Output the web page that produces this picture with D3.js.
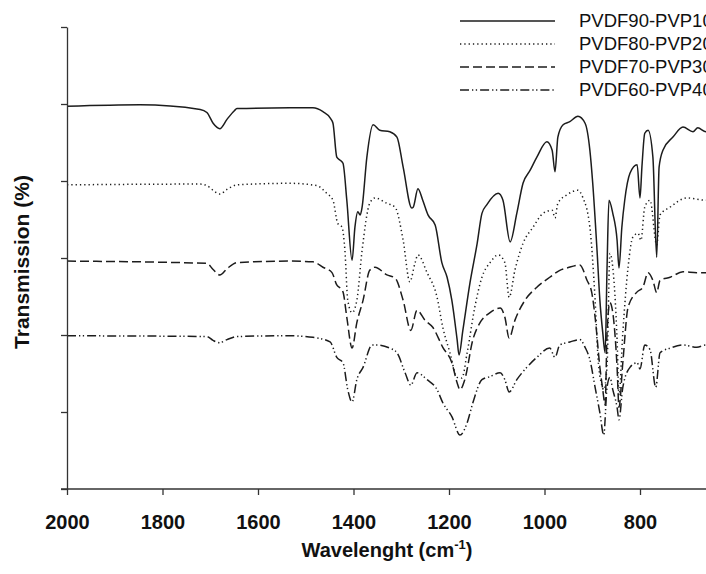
<!DOCTYPE html>
<html>
<head>
<meta charset="utf-8">
<script src="https://cdn.jsdelivr.net/npm/d3@7"></script>
<style>
  body { margin: 0; background: #fff; }
  svg { display: block; }
  text { font-family: "Liberation Sans", Arial, sans-serif; fill: #111; }
</style>
</head>
<body>
<div id="chart"></div>
<script>
// FTIR spectra, [wavenumber cm-1, transmission]
const pvdf90 = [[2000,49.7],[1847,49.9],[1721,49.3],[1707,48.9],[1694,47.5],[1680,46.8],[1665,48.0],[1650,49.1],[1644,49.4],
  [1533,49.5],[1485,49.5],[1464,49.0],[1449,48.2],[1443,47.5],[1435,43.1],[1428,42.7],[1422,42.3],[1414,37.5],
  [1403,29.7],[1397,34.0],[1391,36.0],[1386,35.6],[1382,36.6],[1372,43.1],[1359,47.3],[1345,46.6],[1324,46.4],
  [1309,45.7],[1296,41.8],[1278,36.5],[1275,36.6],[1265,39.0],[1255,37.5],[1244,35.6],[1229,34.3],[1215,29.4],
  [1204,27.5],[1194,24.5],[1183,19.4],[1179,17.4],[1171,20.6],[1156,26.8],[1141,31.9],[1131,35.8],[1121,36.9],
  [1097,38.4],[1087,37.5],[1072,32.1],[1058,35.8],[1045,39.7],[1030,41.4],[1016,43.1],[995,45.1],[984,44.0],
  [978,41.2],[972,45.7],[961,47.3],[947,47.7],[930,48.4],[915,47.5],[905,44.0],[899,39.7],[890,31.0],[884,24.5],
  [878,20.3],[873,17.7],[869,28.8],[865,37.5],[857,35.8],[848,32.3],[844,28.7],[838,34.0],[832,37.5],[821,41.0],
  [806,42.1],[800,37.8],[796,41.8],[790,46.2],[783,46.6],[773,43.1],[765,30.1],[760,41.8],[752,44.0],[731,45.7],
  [710,47.0],[689,46.4],[679,46.9],[662,46.4],[650,46.6]];

const pvdf80 = [[2000,39.5],[1721,39.6],[1707,39.4],[1694,38.8],[1680,38.3],[1665,38.9],[1644,39.5],[1533,39.7],
  [1477,39.4],[1456,38.4],[1443,37.5],[1433,34.5],[1424,34.0],[1418,31.0],[1412,24.5],[1403,22.9],[1393,24.5],
  [1382,31.0],[1366,37.1],[1355,37.8],[1330,37.1],[1313,36.6],[1296,32.3],[1282,26.9],[1271,29.4],[1265,30.4],
  [1246,28.1],[1225,24.9],[1213,21.0],[1198,17.7],[1183,14.5],[1173,14.4],[1162,17.7],[1146,23.6],[1131,27.5],
  [1114,29.4],[1097,30.4],[1083,29.4],[1074,24.9],[1062,28.4],[1045,31.9],[1024,34.0],[1003,35.8],[984,36.2],
  [978,35.2],[972,37.1],[953,38.2],[930,38.8],[920,37.9],[905,34.0],[894,24.5],[888,17.1],[880,13.5],[876,12.9],
  [869,16.0],[863,30.6],[857,28.8],[848,19.4],[844,12.2],[836,20.3],[825,28.8],[815,32.7],[804,33.2],[798,32.3],
  [790,36.6],[779,37.5],[765,31.7],[758,35.6],[737,36.6],[702,37.8],[662,37.5],[650,37.5]];

const pvdf70 = [[2000,29.6],[1707,29.3],[1694,28.5],[1680,27.8],[1665,28.6],[1644,29.4],[1533,29.6],[1485,29.5],
  [1464,28.8],[1445,28.1],[1435,26.5],[1428,26.1],[1422,25.6],[1414,22.3],[1403,18.3],[1393,21.6],[1380,24.5],
  [1366,28.4],[1355,28.8],[1330,27.8],[1313,27.4],[1296,24.5],[1280,20.6],[1267,23.2],[1250,21.9],[1234,21.0],
  [1213,18.4],[1194,16.4],[1183,13.8],[1177,12.9],[1167,14.2],[1150,19.4],[1135,21.6],[1114,22.9],[1093,23.5],
  [1083,22.3],[1074,19.6],[1062,21.9],[1041,24.5],[1016,26.2],[989,27.5],[968,28.4],[953,28.7],[926,29.1],
  [911,27.1],[901,25.5],[894,22.3],[884,15.8],[878,12.9],[873,10.9],[869,20.3],[863,24.2],[857,22.9],[848,15.8],
  [844,10.6],[836,16.4],[825,23.6],[806,25.6],[794,26.2],[783,28.1],[773,27.1],[765,25.5],[758,27.1],[737,27.5],
  [710,28.2],[681,28.1],[662,28.1],[650,28.1]];

const pvdf60 = [[2000,19.9],[1707,19.8],[1694,19.3],[1680,19.0],[1665,19.4],[1644,19.8],[1533,19.9],[1485,19.7],
  [1449,19.1],[1435,17.1],[1422,16.4],[1412,12.9],[1403,11.3],[1393,14.2],[1380,15.8],[1361,18.7],[1351,18.7],
  [1324,18.3],[1309,17.7],[1292,15.1],[1280,13.5],[1267,15.1],[1246,14.2],[1225,12.9],[1213,11.2],[1194,9.4],
  [1177,7.0],[1162,8.6],[1150,11.2],[1131,14.2],[1114,14.6],[1093,15.1],[1083,14.2],[1074,12.6],[1058,14.2],
  [1037,15.8],[1016,17.1],[989,18.3],[978,17.1],[968,18.7],[947,19.1],[926,19.4],[915,18.4],[905,16.8],
  [894,13.2],[884,9.9],[876,7.0],[869,13.2],[863,14.5],[857,12.9],[848,10.6],[844,9.0],[836,13.2],[821,15.8],
  [806,16.4],[800,15.6],[790,18.7],[779,18.1],[767,13.2],[758,17.7],[737,18.3],[710,18.7],[681,18.4],[662,18.7],
  [650,18.7]];

const seriesNames = ["PVDF90-PVP10", "PVDF80-PVP20", "PVDF70-PVP30", "PVDF60-PVP40"];
const xTicks = [2000, 1800, 1600, 1400, 1200, 1000, 800];
const yTicks = [0, 10, 20, 30, 40, 50, 60];

const series = [pvdf90, pvdf80, pvdf70, pvdf60];
const dashes = ["none", "1.3,3", "9,4", "9,3,1.3,2.5,1.3,3"];

const width = 706, height = 574;
const margin = {top: 27, left: 67, bottom: 85};

const svg = d3.select("#chart").append("svg")
  .attr("width", width)
  .attr("height", height);

const x = d3.scaleLinear()
  .domain([2000, 650])
  .range([margin.left, margin.left + 1350 * 0.4775]);

const y = d3.scaleLinear()
  .domain([0, 60])
  .range([height - margin.bottom, margin.top]);

const line = d3.line()
  .x(d => x(d[0]))
  .y(d => y(d[1]))
  .curve(d3.curveMonotoneX);

svg.selectAll("path.spec")
  .data(series)
  .enter().append("path")
  .attr("class", "spec")
  .attr("d", line)
  .attr("fill", "none")
  .attr("stroke", "#1c1c1c")
  .attr("stroke-width", 1.5)
  .attr("stroke-dasharray", (d, i) => dashes[i]);

// axes
const xAxis = d3.axisBottom(x).tickValues(xTicks).tickSize(6).tickSizeOuter(0)
  .tickPadding(20).tickFormat(d3.format("d"));
const yAxis = d3.axisLeft(y).tickValues(yTicks).tickSize(6).tickSizeOuter(0).tickFormat("");

const gx = svg.append("g")
  .attr("transform", "translate(0," + y(0) + ")")
  .call(xAxis);
gx.select(".domain").attr("d", "M" + (margin.left - 6) + ",0H" + width);
gx.selectAll("text")
  .style("font-size", "20px")
  .style("font-weight", "bold")
  .attr("fill", "#111");

const gy = svg.append("g")
  .attr("transform", "translate(" + margin.left + ",0)")
  .call(yAxis);

svg.selectAll(".domain, .tick line")
  .attr("stroke", "#333")
  .attr("stroke-width", 1.3);

// axis titles
const xt = svg.append("text")
  .attr("x", 387)
  .attr("y", 557)
  .attr("text-anchor", "middle")
  .style("font-size", "20px")
  .style("font-weight", "bold");
xt.append("tspan").text("Wavelenght (cm");
xt.append("tspan").attr("dy", -8).style("font-size", "13px").text("-1");
xt.append("tspan").attr("dy", 8).text(")");

svg.append("text")
  .attr("transform", "translate(29,262) rotate(-90)")
  .attr("text-anchor", "middle")
  .style("font-size", "21px")
  .style("font-weight", "bold")
  .text("Transmission (%)");

// legend
const legend = svg.selectAll("g.legend")
  .data(seriesNames)
  .enter().append("g")
  .attr("class", "legend")
  .attr("transform", (d, i) => "translate(0," + (21 + i * 23) + ")");

legend.append("line")
  .attr("x1", 460).attr("x2", 555)
  .attr("stroke", "#1c1c1c")
  .attr("stroke-width", 1.4)
  .attr("stroke-dasharray", (d, i) => dashes[i]);

legend.append("text")
  .attr("x", 579)
  .attr("y", 6)
  .style("font-size", "18.5px")
  .text(d => d);
</script>
</body>
</html>
